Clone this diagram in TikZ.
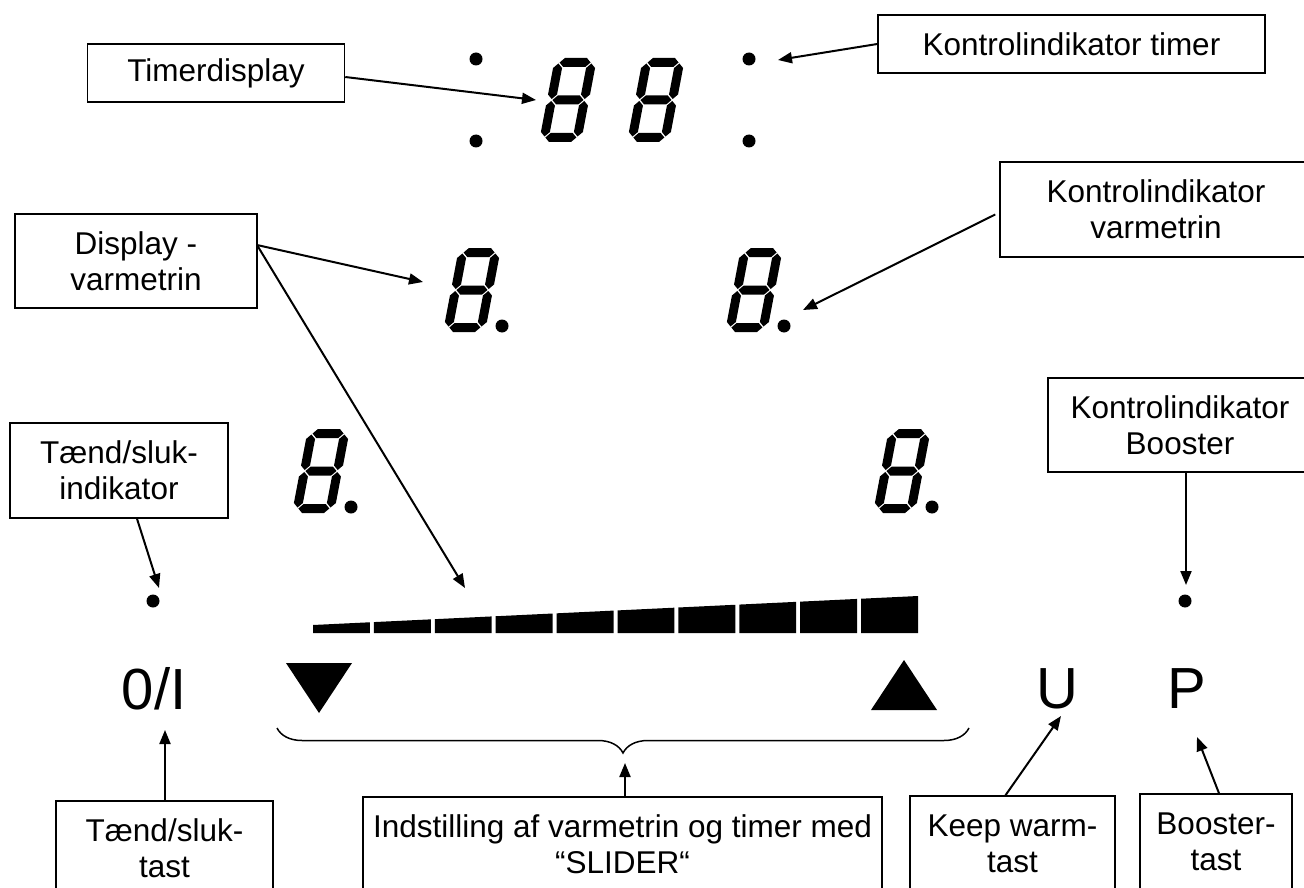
\documentclass[tikz,border=0pt]{standalone}
\usepackage{fontspec}
\setmainfont{Liberation Sans}
\usetikzlibrary{arrows.meta,decorations.pathreplacing}

% one horizontal LCD segment: from x=#1 to x=#2, centred on y=#3
\newcommand\segh[3]{%
  \fill (#1,#3) -- ({#1+4.5},{#3+4.5}) -- ({#2-4.5},{#3+4.5}) -- (#2,#3)
        -- ({#2-4.5},{#3-4.5}) -- ({#1+4.5},{#3-4.5}) -- cycle;}
% one vertical LCD segment: centred on x=#1, from y=#2 to y=#3
\newcommand\segv[3]{%
  \fill (#1,#2) -- ({#1+4.5},{#2+4.5}) -- ({#1+4.5},{#3-4.5}) -- (#1,#3)
        -- ({#1-4.5},{#3-4.5}) -- ({#1-4.5},{#2+4.5}) -- cycle;}

\tikzset{
  sevenseg/.pic={
    \begin{scope}[x=1pt,y=1pt,xslant=0.19]
      \segh{5.5}{36.5}{4.5}\segh{5.5}{36.5}{42}\segh{5.5}{36.5}{79.5}
      \segv{4.5}{5.5}{41}\segv{4.5}{43}{78.5}
      \segv{37.5}{5.5}{41}\segv{37.5}{43}{78.5}
    \end{scope}
  },
  sevensegdp/.pic={
    \pic {sevenseg};
    \fill[x=1pt,y=1pt] (59,6) circle[radius=6.5];
  },
  box/.style={draw, line width=1.5pt, align=center, inner sep=0pt,
    font=\fontsize{31.5}{36}\selectfont},
  pointer/.style={line width=2pt, -{Triangle[length=14pt,width=11pt]}},
  keyglyph/.style={inner sep=0pt, anchor=base, font=\fontsize{58}{60}\selectfont},
  led/.style={fill=black},
}

\begin{document}
\begin{tikzpicture}[x=1pt,y=-1pt]
\useasboundingbox (0,0) rectangle (1304,888);
\clip (0,0) rectangle (1304,888);

% ---- timer display with its indicator points
\fill[led] (476,59) circle[radius=6.5] (476,141) circle[radius=6.5]
           (749,59) circle[radius=6.5] (749,141) circle[radius=6.5];
\pic at (539,142) {sevenseg};
\pic at (627,142) {sevenseg};

% ---- cooking zone displays
\pic at (443,332) {sevensegdp};
\pic at (725,332) {sevensegdp};
\pic at (292,513) {sevensegdp};
\pic at (873,513) {sevensegdp};

% ---- power and booster indicator points
\fill[led] (153,601) circle[radius=6.5];
\fill[led] (1185,601) circle[radius=6.5];

% ---- slider bar graph (top edge rises from 625 to 596)
\foreach \i in {0,...,9}{
  \pgfmathsetmacro\xl{313+60.9*\i}
  \pgfmathsetmacro\xr{\xl+56.9}
  \pgfmathsetmacro\yl{625-(\xl-313)*0.047934}
  \pgfmathsetmacro\yr{625-(\xr-313)*0.047934}
  \fill (\xl,633) -- (\xr,633) -- (\xr,\yr) -- (\xl,\yl) -- cycle;
}

% ---- keys
\fill (286,663) -- (352,663) -- (319,713) -- cycle;
\fill (871,710) -- (937,710) -- (904,660) -- cycle;
\node[keyglyph] (onoff) at (154,709) {0/I};
\node[keyglyph] (ukeytxt) at (1057,708) {U};
\node[keyglyph] (pkeytxt) at (1187,708) {P};

% ---- brace under the slider
\draw[line width=1.5pt, decorate, decoration={brace, mirror, amplitude=25pt}]
  (277,728) -- (969,728);

% ---- label boxes
\node[box, minimum width=257pt, minimum height=58pt] (tdisp) at (216,73) {Timerdisplay};
\node[box, minimum width=387pt, minimum height=58pt] (ktimer) at (1071.5,44) {Kontrolindikator timer};
\node[box, minimum width=242pt, minimum height=94pt] (dvarme) at (136,261) {Display -\\varmetrin};
\node[box, minimum width=312pt, minimum height=95pt] (kvarme) at (1156,209.5) {Kontrolindikator\\varmetrin};
\node[box, minimum width=218pt, minimum height=95pt] (tsind) at (119,470.5) {Tænd/sluk-\\indikator};
\node[box, minimum width=264pt, minimum height=94pt] (kboost) at (1180,425) {Kontrolindikator\\Booster};
\node[box, minimum width=217pt, minimum height=95pt] (tstast) at (164.5,848.5) {Tænd/sluk-\\tast};
\node[box, minimum width=519pt, minimum height=95pt] (slider) at (622.5,844.5) {Indstilling af varmetrin og timer med\\“SLIDER“};
\node[box, minimum width=205pt, minimum height=95pt] (keep) at (1012.5,843.5) {Keep warm-\\tast};
\node[box, minimum width=152pt, minimum height=95pt] (boost) at (1216,841.5) {Booster-\\tast};

% ---- arrow targets
\coordinate (tdigit) at (536,100);
\coordinate (tdot) at (778,60);
\coordinate (ldigit) at (423,282);
\coordinate (slidertip) at (465,588);
\coordinate (rdot) at (803,310);
\coordinate (ondot) at (159,588);
\coordinate (boosttip) at (1186,585);
\coordinate (onkey) at (165,730);
\coordinate (bracetip) at (625,763);
\coordinate (ukey) at (1061,716);
\coordinate (pkey) at (1197,737);
\coordinate (dvstart) at (257,245);

% ---- connectors
\draw[pointer] ([yshift=-4pt]tdisp.east) -- (tdigit);
\draw[pointer] (ktimer.west) -- (tdot);
\draw[pointer] (dvstart) -- (ldigit);
\draw[pointer] (dvstart) -- (slidertip);
\draw[pointer] ([xshift=-4pt,yshift=-5pt]kvarme.west) -- (rdot);
\draw[pointer] ([xshift=18pt]tsind.south) -- (ondot);
\draw[pointer] (kboost.south -| boosttip) -- (boosttip);
\draw[pointer] (tstast.north -| onkey) -- (onkey);
\draw[pointer] (slider.north -| bracetip) -- (bracetip);
\draw[pointer] ([xshift=-7pt]keep.north) -- (ukey);
\draw[pointer] ([xshift=3pt]boost.north) -- (pkey);
\end{tikzpicture}
\end{document}
